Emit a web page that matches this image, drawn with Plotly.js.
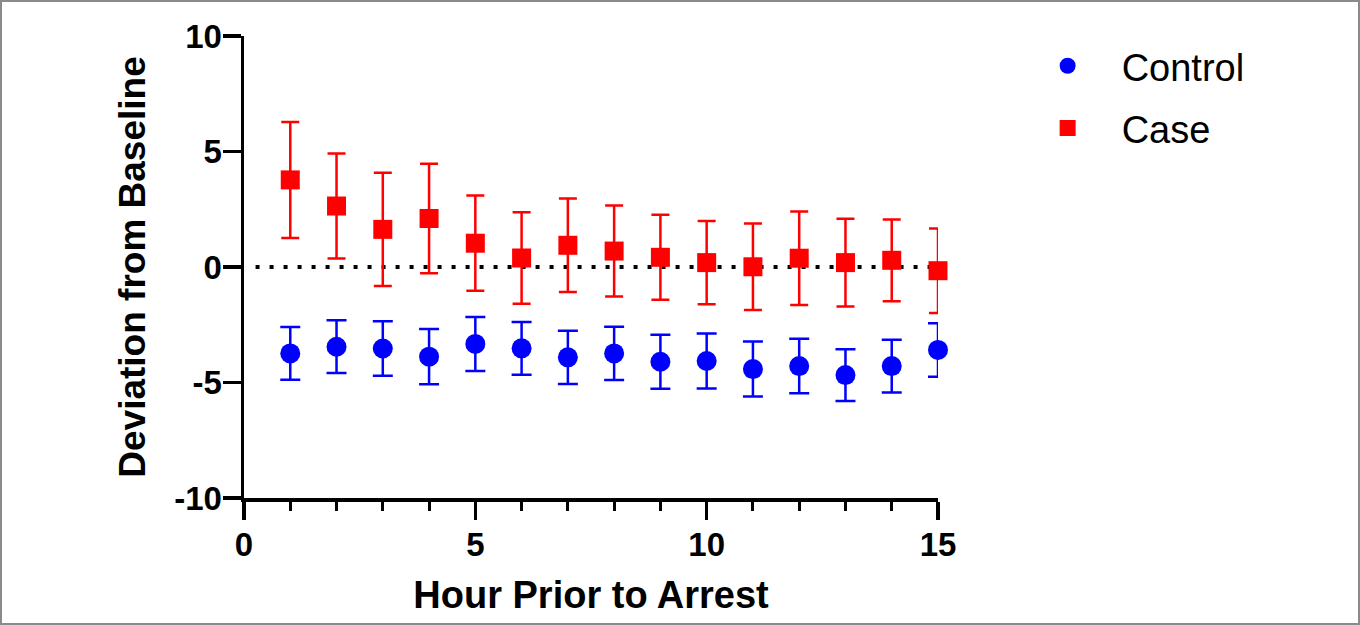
<!DOCTYPE html>
<html>
<head>
<meta charset="utf-8">
<script src="https://cdn.plot.ly/plotly-3.0.1.min.js"></script>
<style>
  html, body { margin: 0; padding: 0; background: #fff; }
  #wrap { position: relative; width: 1360px; height: 625px; }
  #chart { width: 1360px; height: 625px; }
  #frame { position: absolute; left: 0; top: 0; width: 1360px; height: 625px; box-sizing: border-box; border: 2px solid #8a8a8a; pointer-events: none; }
</style>
</head>
<body>
<div id="wrap">
  <div id="chart"></div>
  <div id="frame"></div>
</div>
<script>
// Hour prior to arrest
const hours = [1,2,3,4,5,6,7,8,9,10,11,12,13,14,15];

// Control series (mean and error)
const controlMean = [-3.74,-3.45,-3.53,-3.88,-3.33,-3.52,-3.91,-3.74,-4.10,-4.07,-4.42,-4.29,-4.68,-4.29,-3.59];
const controlErr  = [1.14,1.14,1.18,1.20,1.17,1.14,1.15,1.15,1.17,1.19,1.19,1.18,1.12,1.14,1.16];

// Case series (mean and error)
const caseMean = [3.77,2.64,1.63,2.10,1.03,0.39,0.94,0.69,0.42,0.19,0.01,0.38,0.19,0.29,-0.16];
const caseErr  = [2.51,2.27,2.45,2.37,2.06,1.98,2.02,1.97,1.84,1.80,1.87,2.02,1.90,1.77,1.83];

// Axis ticks
const xTicks = [0,5,10,15];
const xTickText = ['0','5','10','15'];
const yTicks = [-10,-5,0,5,10];
const yTickText = ['-10','-5','0','5','10'];

const FONT = "Liberation Sans, Arial, sans-serif";

const traces = [
  {
    x: hours, y: controlMean, name: 'Control', type: 'scatter', mode: 'markers',
    legend: 'legend', cliponaxis: false,
    marker: { symbol: 'circle', size: 20, color: '#0000FF' },
    error_y: { type: 'data', array: controlErr, visible: true, color: '#0000FF', thickness: 2.5, width: 10 }
  },
  {
    x: hours, y: caseMean, name: 'Case', type: 'scatter', mode: 'markers',
    legend: 'legend2', cliponaxis: false,
    marker: { symbol: 'square', size: 19, color: '#FF0000' },
    error_y: { type: 'data', array: caseErr, visible: true, color: '#FF0000', thickness: 2.5, width: 9 }
  }
];

const legendCommon = {
  font: { family: FONT, size: 38, color: '#000' },
  bgcolor: 'rgba(0,0,0,0)',
  xanchor: 'left', yanchor: 'middle',
  itemsizing: 'trace', itemwidth: 98
};

const layout = {
  width: 1360, height: 625,
  margin: { l: 244, r: 422, t: 36, b: 127 },
  paper_bgcolor: '#fff', plot_bgcolor: '#fff',
  showlegend: true,
  legend: Object.assign({}, legendCommon, { x: 1.109, y: 0.935 }),
  legend2: Object.assign({}, legendCommon, { x: 1.109, y: 0.80 }),
  xaxis: {
    range: [0, 15], tickvals: xTicks, ticktext: xTickText, ticks: 'outside', ticklen: 18, tickwidth: 3.5, tickcolor: '#000',
    minor: { dtick: 1, tick0: 0, ticks: 'outside', ticklen: 9, tickwidth: 3, tickcolor: '#000', showgrid: false },
    showline: true, linewidth: 3.5, linecolor: '#000', showgrid: false, zeroline: false,
    ticklabelstandoff: -3,
    tickfont: { family: FONT, size: 33, color: '#000', weight: 'bold' },
    title: { text: '<b>Hour Prior to Arrest</b>', font: { family: FONT, size: 38, color: '#000' }, standoff: 20 }
  },
  yaxis: {
    range: [-10, 10], tickvals: yTicks, ticktext: yTickText, ticks: 'outside', ticklen: 18, tickwidth: 3.5, tickcolor: '#000',
    showline: true, linewidth: 3.5, linecolor: '#000', showgrid: false, zeroline: false,
    ticklabelstandoff: -6,
    tickfont: { family: FONT, size: 33, color: '#000', weight: 'bold' },
    title: { text: '<b>Deviation from Baseline</b>', font: { family: FONT, size: 37, color: '#000' }, standoff: 18 }
  },
  shapes: [
    { type: 'line', xref: 'x', yref: 'y', x0: 0.25, x1: 15, y0: 0, y1: 0,
      line: { color: '#000', width: 4, dash: '4px,10px' }, layer: 'below' }
  ]
};

Plotly.newPlot('chart', traces, layout, { displayModeBar: false, staticPlot: true });
</script>
</body>
</html>
